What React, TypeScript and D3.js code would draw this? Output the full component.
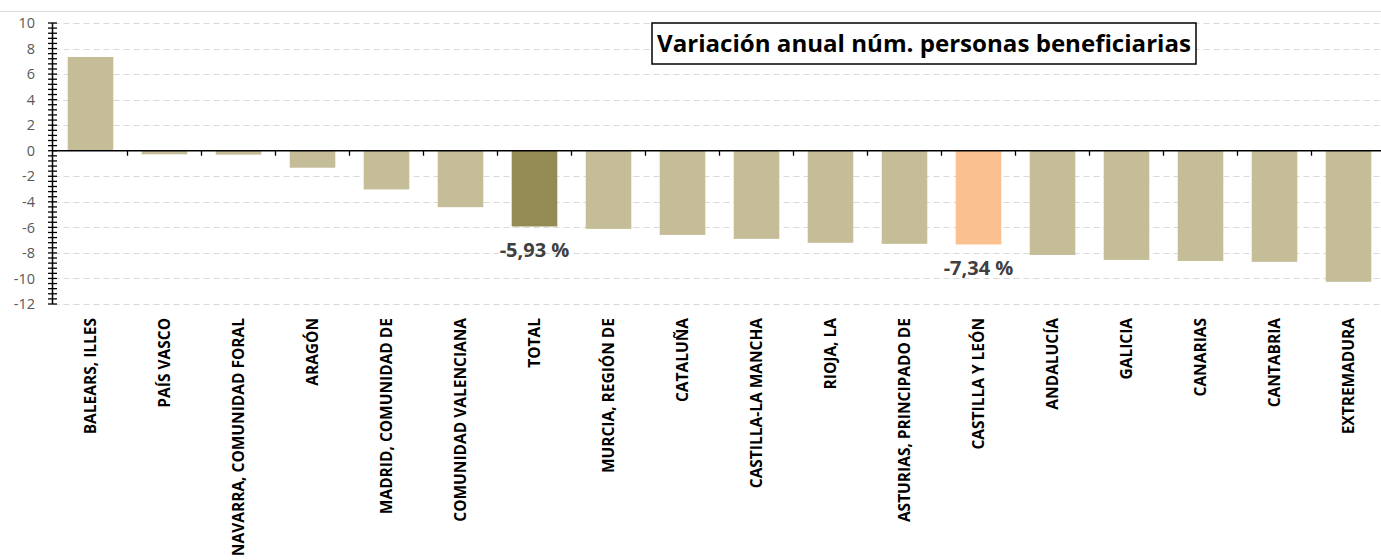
import React, { useEffect, useRef } from 'react';
import * as d3 from 'd3';

const W = 1381;
const H = 560;

const regions = [
  'BALEARS, ILLES',
  'PAÍS VASCO',
  'NAVARRA, COMUNIDAD FORAL',
  'ARAGÓN',
  'MADRID, COMUNIDAD DE',
  'COMUNIDAD VALENCIANA',
  'TOTAL',
  'MURCIA, REGIÓN DE',
  'CATALUÑA',
  'CASTILLA-LA MANCHA',
  'RIOJA, LA',
  'ASTURIAS, PRINCIPADO DE',
  'CASTILLA Y LEÓN',
  'ANDALUCÍA',
  'GALICIA',
  'CANARIAS',
  'CANTABRIA',
  'EXTREMADURA'
];
// variación anual (%)
const variation = [
  7.34, -0.28, -0.31, -1.33, -3.03, -4.42, -5.93, -6.12, -6.59,
  -6.9, -7.21, -7.29, -7.34, -8.16, -8.55, -8.63, -8.7, -10.26
];
const labelled = ['TOTAL', 'CASTILLA Y LEÓN'];
const yDomain = [-12, 10];
const yTicks = d3.range(-12, 11, 2);
const title = 'Variación anual núm. personas beneficiarias';

const FONT = '"Open Sans", Lato, sans-serif';

function barColor(name) {
  if (name === 'TOTAL') return '#948a54';
  if (name === 'CASTILLA Y LEÓN') return '#fac090';
  return '#c4bd97';
}

const pct = v => v.toFixed(2).replace('.', ',') + ' %';

function draw(node) {
  const svg = d3.select(node);
  svg.selectAll('*').remove();

  const left = 53.5;
  const right = left + regions.length * 74;
  const x = d3.scaleBand().domain(regions).range([left, right])
    .paddingInner(0.384).paddingOuter(0.192);
  const y = d3.scaleLinear().domain(yDomain).range([304, 23]);

  // chart border line at top
  svg.append('line')
    .attr('x1', 0).attr('x2', W).attr('y1', 11.5).attr('y2', 11.5)
    .attr('stroke', '#d9d9d9');

  // grid
  svg.append('g')
    .selectAll('line')
    .data(yTicks.filter(d => d !== 0))
    .enter()
    .append('line')
    .attr('x1', left).attr('x2', W)
    .attr('y1', d => Math.round(y(d)) + 0.5)
    .attr('y2', d => Math.round(y(d)) + 0.5)
    .attr('stroke', '#d9d9d9')
    .attr('stroke-dasharray', '6,4');

  // bars
  svg.append('g')
    .selectAll('rect')
    .data(regions)
    .enter()
    .append('rect')
    .attr('x', d => x(d))
    .attr('width', x.bandwidth())
    .attr('y', (d, i) => y(Math.max(0, variation[i])))
    .attr('height', (d, i) => Math.abs(y(variation[i]) - y(0)))
    .attr('fill', d => barColor(d));

  // y axis
  const ax = svg.append('g');
  ax.append('line')
    .attr('x1', 52.5).attr('x2', 52.5).attr('y1', y(10)).attr('y2', y(-12))
    .attr('stroke', '#000').attr('stroke-width', 1.5);
  ax.selectAll('line.minor')
    .data(d3.range(-12, 10.01, 0.4))
    .enter()
    .append('line')
    .attr('class', 'minor')
    .attr('x1', 48).attr('x2', 57)
    .attr('y1', d => y(d)).attr('y2', d => y(d))
    .attr('stroke', '#000').attr('stroke-width', 1.3);
  ax.selectAll('text')
    .data(yTicks)
    .enter()
    .append('text')
    .attr('x', 35)
    .attr('y', d => y(d))
    .attr('dy', '0.36em')
    .attr('text-anchor', 'end')
    .attr('font-family', FONT)
    .attr('font-size', 14.5)
    .attr('fill', '#595959')
    .text(d => d);

  // zero line + category ticks
  svg.append('line')
    .attr('x1', 52.5).attr('x2', W).attr('y1', y(0)).attr('y2', y(0))
    .attr('stroke', '#000').attr('stroke-width', 1.5);
  svg.append('g')
    .selectAll('line')
    .data(d3.range(1, regions.length + 1))
    .enter()
    .append('line')
    .attr('x1', i => left + i * x.step())
    .attr('x2', i => left + i * x.step())
    .attr('y1', y(0)).attr('y2', y(0) + 5)
    .attr('stroke', '#000').attr('stroke-width', 1.3);

  // category labels
  svg.append('g')
    .selectAll('text')
    .data(regions)
    .enter()
    .append('text')
    .attr('transform', d => `translate(${x(d) + x.bandwidth() / 2},318) rotate(-90)`)
    .attr('dy', '0.36em')
    .attr('text-anchor', 'end')
    .attr('font-family', FONT)
    .attr('font-weight', 'bold')
    .attr('font-size', 15.5)
    .attr('fill', '#000')
    .text(d => d);

  // data labels
  svg.append('g')
    .selectAll('text')
    .data(regions.filter(d => labelled.includes(d)))
    .enter()
    .append('text')
    .attr('x', d => x(d) + x.bandwidth() / 2)
    .attr('y', d => y(variation[regions.indexOf(d)]) + 31)
    .attr('text-anchor', 'middle')
    .attr('font-family', FONT)
    .attr('font-weight', 'bold')
    .attr('font-size', 20)
    .attr('fill', '#404040')
    .text(d => pct(variation[regions.indexOf(d)]));

  // title box
  const tg = svg.append('g');
  tg.append('rect')
    .attr('x', 652).attr('y', 23).attr('width', 544).attr('height', 41)
    .attr('fill', '#fff').attr('stroke', '#000').attr('stroke-width', 1.5);
  tg.append('text')
    .attr('x', 924).attr('y', 52)
    .attr('text-anchor', 'middle')
    .attr('font-family', FONT)
    .attr('font-weight', 'bold')
    .attr('font-size', 24)
    .attr('fill', '#000')
    .attr('textLength', 534)
    .attr('lengthAdjust', 'spacingAndGlyphs')
    .text(title);
}

export default function App() {
  const ref = useRef(null);
  useEffect(() => {
    draw(ref.current);
  }, []);
  return (
    <svg
      ref={ref}
      width={W}
      height={H}
      style={{ position: 'absolute', left: 0, top: 0, background: '#fff' }}
    />
  );
}
